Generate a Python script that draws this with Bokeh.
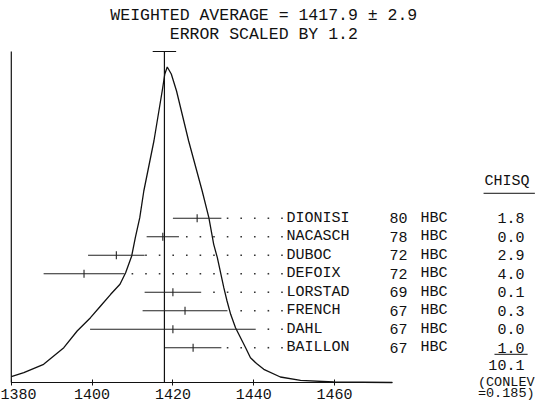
from bokeh.plotting import figure
from bokeh.models import FixedTicker, Range1d, ColumnDataSource
from bokeh.core.properties import value
from bokeh.embed import file_html
from bokeh.resources import INLINE

# ---------------- data ----------------
authors = ["DIONISI", "NACASCH", "DUBOC", "DEFOIX", "LORSTAD", "FRENCH", "DAHL", "BAILLON"]
years = ["80", "78", "72", "72", "69", "67", "67", "67"]
techs = ["HBC", "HBC", "HBC", "HBC", "HBC", "HBC", "HBC", "HBC"]
masses = [1426.0, 1417.5, 1406.0, 1398.0, 1420.0, 1423.0, 1420.0, 1425.0]
errors = [6.0, 4.0, 7.0, 10.0, 7.0, 10.5, 20.5, 7.0]
chisq = ["1.8", "0.0", "2.9", "4.0", "0.1", "0.3", "0.0", "1.0"]
chisq_total = "10.1"
conlev_lines = ["(CONLEV", "=0.185)"]
avg_mass = 1417.9
avg_err = 2.9
scale_factor = 1.2
x_ticks = [1380, 1400, 1420, 1440, 1460]

# ideogram curve (mass, height above the axis)
curve_mass = [1380.0, 1383.1, 1388.0, 1393.0, 1396.3, 1399.6, 1402.1, 1404.6, 1406.9,
              1408.3, 1409.8, 1410.7, 1411.8, 1412.8, 1415.3, 1417.35, 1418.0, 1418.6,
              1419.6, 1420.9, 1423.9, 1427.25, 1428.9, 1430.1, 1431.0, 1431.8, 1432.6,
              1433.4, 1434.3, 1435.5, 1438.0, 1439.2, 1440.7, 1442.5, 1446.6, 1451.6,
              1459.8, 1474.3]
curve_height = [5.8, 9.8, 18.2, 34.8, 51.5, 64.8, 76.5, 88.2, 98.2,
                109.8, 126.5, 144.8, 164.8, 191.5, 241.5, 291.5, 308.5, 315.5,
                308.5, 291.5, 241.5, 191.5, 164.8, 138.2, 124.8, 109.8, 94.8,
                81.5, 68.2, 54.8, 34.8, 24.8, 19.0, 13.2, 5.5, 2.2,
                0.5, 0.0]

# ---------------- layout constants ----------------
PXU = 4.04            # pixels per MeV
X_ORIGIN_PX = 10.8    # pixel position of the first tick
W, H = 539, 413
AXIS_PX = 382         # pixel row of the mass axis
row_base, row_step = 34.8, 18.49
dot_anchor, dot_step, dot_gap = 1447.0, 3.366, 0.3
name_x, year_x, tech_x, chisq_right = 1448.1, 1473.6, 1481.3, 1507.0
FONT = "Liberation Mono"
INK = "#111111"

x0 = x_ticks[0] - X_ORIGIN_PX / PXU
p = figure(width=W, height=H,
           x_range=Range1d(x0, x0 + W / PXU),
           y_range=Range1d(AXIS_PX - H, AXIS_PX),
           output_backend="svg", toolbar_location=None, y_axis_location=None,
           min_border_left=0, min_border_right=0, min_border_top=0,
           min_border_bottom=0)
p.outline_line_color = None
p.grid.visible = False
p.background_fill_color = "white"
p.border_fill_color = "white"

ax = p.xaxis[0]
ax.fixed_location = 0
ax.ticker = FixedTicker(ticks=x_ticks)
ax.bounds = (x_ticks[0], curve_mass[-1])
ax.major_tick_in = 3
ax.major_tick_out = 3
ax.minor_tick_line_color = None
ax.major_label_standoff = 3
ax.axis_line_color = INK
ax.major_tick_line_color = INK
ax.major_label_text_font = FONT
ax.major_label_text_font_size = "15px"
ax.major_label_text_color = INK

n = len(authors)
rows = [row_base + row_step * (n - 1 - i) for i in range(n)]
lo = [m - e for m, e in zip(masses, errors)]
hi = [m + e for m, e in zip(masses, errors)]
axis_top = max(curve_height) + 15.5

src = ColumnDataSource(dict(author=authors, year=years, tech=techs, m=masses,
                            lo=lo, hi=hi, y=rows, chisq=chisq,
                            ylo=[r - 4 for r in rows], yhi=[r + 4 for r in rows]))

# left axis line
p.segment(x0=[x_ticks[0]], y0=[0], x1=[x_ticks[0]], y1=[axis_top], line_color=INK, line_width=1.2)
# ideogram
p.line(curve_mass, curve_height, line_color=INK, line_width=1.3)
# weighted average line + error cap
p.segment(x0=[avg_mass], y0=[0], x1=[avg_mass], y1=[axis_top], line_color=INK, line_width=1.2)
p.segment(x0=[avg_mass - avg_err], y0=[axis_top], x1=[avg_mass + avg_err], y1=[axis_top],
          line_color=INK, line_width=1.2)
# measurements
p.segment(x0="lo", y0="y", x1="hi", y1="y", source=src, line_color="#222222", line_width=1.1)
p.segment(x0="m", y0="ylo", x1="m", y1="yhi", source=src, line_color="#222222", line_width=1.1)

# leader dots
dx, dy = [], []
for h, r in zip(hi, rows):
    k = 0
    while dot_anchor - k * dot_step > h + dot_gap:
        dx.append(dot_anchor - k * dot_step)
        dy.append(r)
        k += 1
p.scatter(dx, dy, marker="square", size=1.6, fill_color="#333333", line_color=None)

tkw = dict(text_font=value(FONT), text_font_size=value("15px"), text_color=INK,
           text_baseline="middle")
p.text(x=name_x, y="y", text="author", source=src, text_align="left", **tkw)
p.text(x=year_x, y="y", text="year", source=src, text_align="left", **tkw)
p.text(x=tech_x, y="y", text="tech", source=src, text_align="left", **tkw)
p.text(x=chisq_right, y="y", text="chisq", source=src, text_align="right", **tkw)

# CHISQ header + underlines + total + confidence level
hdr_y = rows[0] + 2 * row_step
p.text(x=[1502.7], y=[hdr_y], text=["CHISQ"], text_align="center", **tkw)
p.segment(x0=[1496.9], y0=[hdr_y - 12], x1=[1509.6], y1=[hdr_y - 12], line_color=INK, line_width=1)
p.segment(x0=[1499.6], y0=[rows[-1] - 6.6], x1=[1507.8], y1=[rows[-1] - 6.6], line_color=INK, line_width=1)
p.text(x=[chisq_right], y=[rows[-1] - row_step + 1], text=[chisq_total], text_align="right", **tkw)
p.text(x=[1495.5, 1495.5], y=[0, -11], text=conlev_lines, text_align="left",
       text_font=value(FONT), text_font_size=value("13.5px"), text_color=INK,
       text_baseline="middle")

# title lines
title_x = 1442.5
p.text(x=[title_x, title_x], y=[367.5, 348.5],
       text=[f"WEIGHTED AVERAGE = {avg_mass} ± {avg_err}", f"ERROR SCALED BY {scale_factor}"],
       text_align="center", text_font=value(FONT), text_font_size=value("16.5px"),
       text_color=INK, text_baseline="middle")

open("out.html", "w").write(file_html(p, INLINE))
